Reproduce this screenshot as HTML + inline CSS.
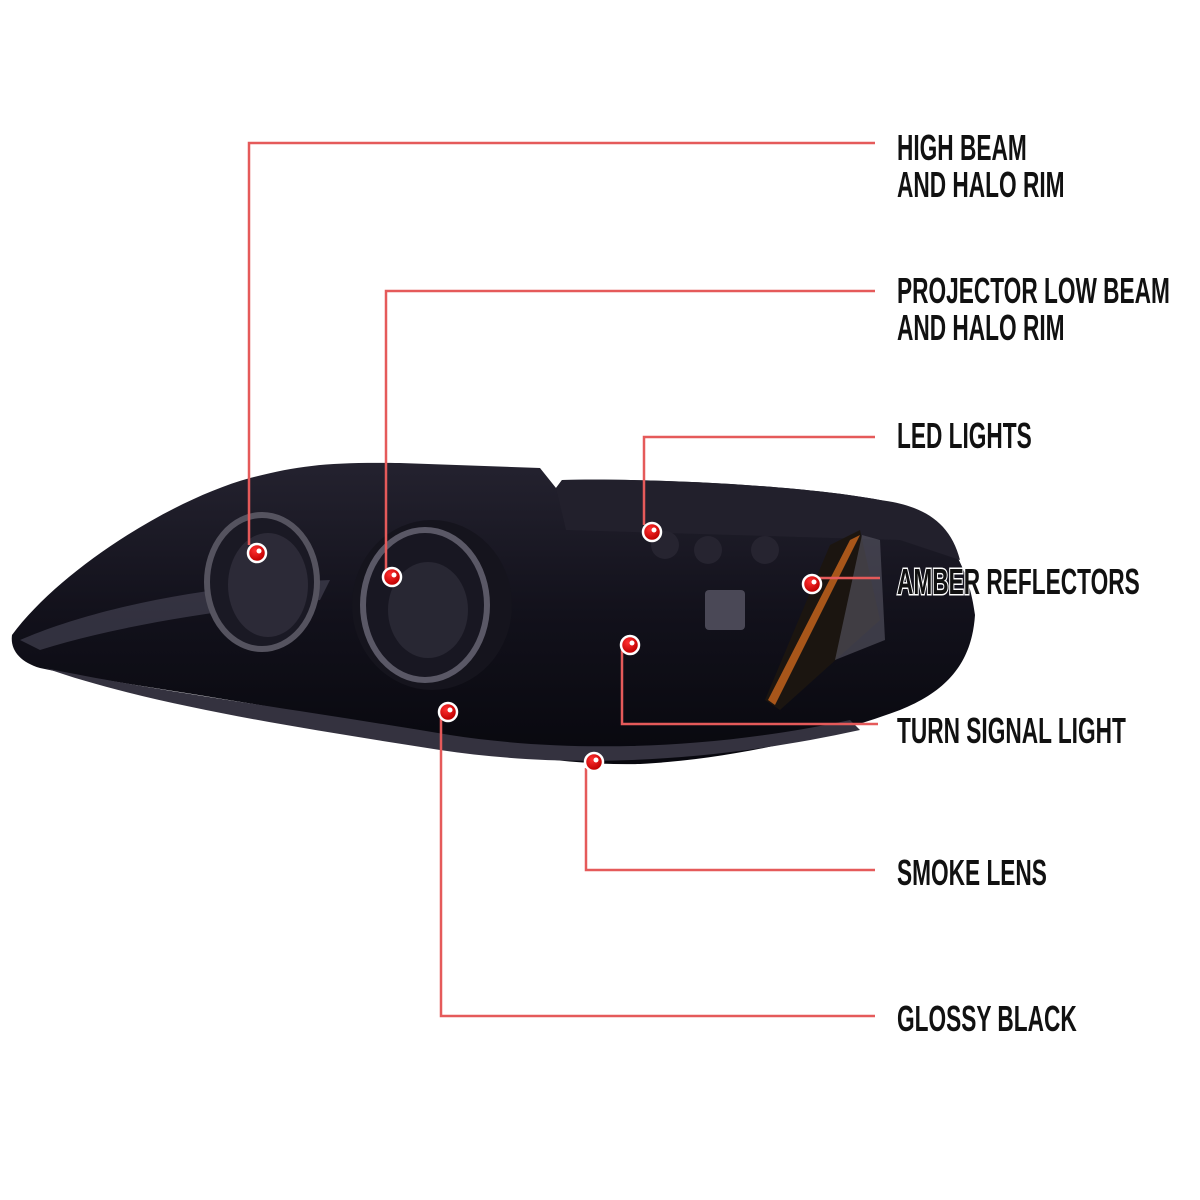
<!DOCTYPE html>
<html><head><meta charset="utf-8"><style>
html,body{margin:0;padding:0;background:#fff;width:1200px;height:1200px;overflow:hidden}
text{font-family:"Liberation Sans",sans-serif;font-size:36px;font-weight:bold;fill:#111;stroke:#fff;stroke-width:3;paint-order:stroke}
</style></head><body>
<svg width="1200" height="1200" viewBox="0 0 1200 1200" xmlns="http://www.w3.org/2000/svg">
<defs>
<linearGradient id="body" x1="0" y1="0" x2="0" y2="1">
<stop offset="0" stop-color="#24222f"/><stop offset="0.5" stop-color="#12111b"/><stop offset="1" stop-color="#08080e"/></linearGradient>
<radialGradient id="dot" cx="0.4" cy="0.35" r="0.6"><stop offset="0" stop-color="#ff3030"/><stop offset="1" stop-color="#c00000"/></radialGradient>
</defs>
<path d="M12,635 C60,570 170,500 250,478 C300,465 330,462 400,463 L540,468 L556,488 L562,480 C650,478 800,485 880,500 C940,512 968,560 975,615 C972,660 950,690 900,710 C820,740 720,760 640,764 C560,766 480,750 380,728 C250,700 120,685 40,668 C20,662 10,650 12,635 Z" fill="url(#body)"/>
<path d="M556,488 L566,530 L900,540 L960,560 C950,520 920,505 880,500 C800,485 650,478 562,480 Z" fill="#22202c"/>
<path d="M20,640 C90,610 200,585 330,580 L320,600 C220,610 120,625 40,650 Z" fill="#4a4858" opacity="0.6"/>
<path d="M45,668 C150,690 300,710 450,735 C560,752 700,752 850,720 L860,730 C700,765 560,768 440,750 C300,728 150,705 45,668 Z" fill="#34323f"/>
<ellipse cx="262" cy="582" rx="55" ry="67" fill="#1a1924" stroke="#55535f" stroke-width="6"/>
<ellipse cx="268" cy="585" rx="40" ry="52" fill="#2c2a37"/>
<ellipse cx="432" cy="605" rx="80" ry="85" fill="#15141d"/>
<ellipse cx="425" cy="605" rx="62" ry="75" fill="#181722" stroke="#5a5866" stroke-width="6"/>
<ellipse cx="428" cy="610" rx="40" ry="48" fill="#282733"/>
<circle cx="665" cy="545" r="14" fill="#262430"/><circle cx="708" cy="550" r="14" fill="#262430"/><circle cx="765" cy="550" r="14" fill="#262430"/>
<rect x="705" y="590" width="40" height="40" fill="#4a4856" rx="4"/>
<path d="M830,545 L860,530 L880,620 L780,710 L765,700 Z" fill="#1b1510"/>
<path d="M850,540 L860,535 L775,705 L768,700 Z" fill="#a8561a"/>
<path d="M862,535 L880,540 L885,640 L835,660 Z" fill="#5a5866" opacity="0.6"/>
<g stroke="#e55a5a" stroke-width="2.5" fill="none">
<polyline points="249,545 249,143 875,143"/>
<polyline points="386,570 386,291 875,291"/>
<polyline points="644,525 644,437 875,437"/>
<polyline points="818,578 880,578"/>
<polyline points="622,650 622,724 878,724"/>
<polyline points="586,768 586,870 875,870"/>
<polyline points="441,718 441,1016 875,1016"/>
</g>
<g fill="url(#dot)" stroke="#fff" stroke-width="2.5">
<circle cx="257" cy="553" r="9"/><circle cx="392" cy="577" r="9"/><circle cx="652" cy="532" r="9"/>
<circle cx="812" cy="584" r="9"/><circle cx="630" cy="645" r="9"/><circle cx="594" cy="762" r="9"/><circle cx="448" cy="712" r="9"/>
</g>
<g fill="#fff"><circle cx="259" cy="551" r="2.5"/><circle cx="394" cy="575" r="2.5"/><circle cx="654" cy="530" r="2.5"/><circle cx="814" cy="582" r="2.5"/><circle cx="632" cy="643" r="2.5"/><circle cx="596" cy="760" r="2.5"/><circle cx="450" cy="710" r="2.5"/></g>
<g transform="translate(897,0) scale(0.63,1)">
<text x="0" y="160">HIGH BEAM</text>
<text x="0" y="197">AND HALO RIM</text>
<text x="0" y="303">PROJECTOR LOW BEAM</text>
<text x="0" y="340">AND HALO RIM</text>
<text x="0" y="448">LED LIGHTS</text>
<text x="0" y="594">AMBER REFLECTORS</text>
<text x="0" y="743">TURN SIGNAL LIGHT</text>
<text x="0" y="885">SMOKE LENS</text>
<text x="0" y="1031">GLOSSY BLACK</text>
</g>
</svg>
</body></html>
